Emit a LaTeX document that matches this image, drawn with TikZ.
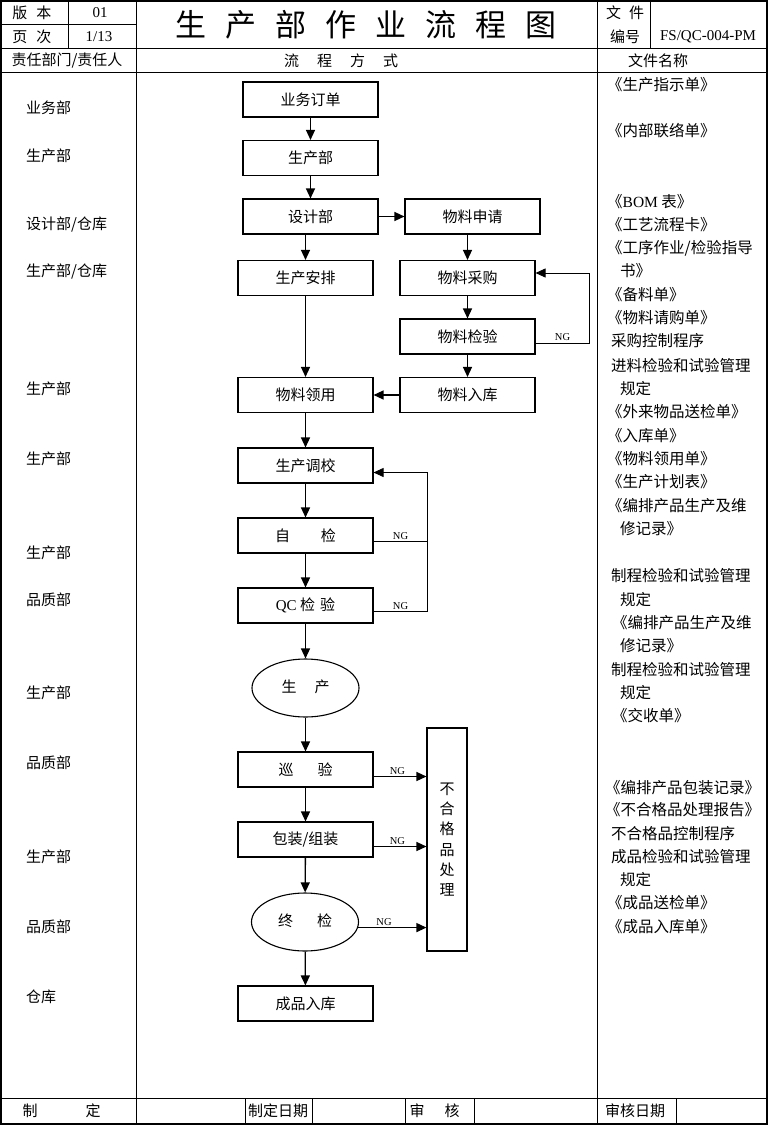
\documentclass[tikz,border=0pt]{standalone}
\usepackage{fontspec}
\setmainfont{Liberation Serif}
\newfontfamily\cjk{Noto Sans CJK SC}
\newfontfamily\lat{Liberation Serif}
\usetikzlibrary{arrows.meta,shapes.geometric,calc}
\newcommand\fsz[1]{\fontsize{#1}{#1}\selectfont}
\begin{document}
\begin{tikzpicture}[x=1pt,y=-1pt,
  frame/.style={line width=1.2pt},
  grid/.style={line width=1pt},
  txt/.style={inner sep=0pt, font=\cjk\fsz{15}},
  lbl/.style={anchor=west, inner sep=0pt, font=\cjk\fsz{15}},
  doc/.style={anchor=west, inner sep=0pt, font=\cjk\fsz{15.5}},
  box/.style={draw, line width=1.1pt, minimum width=135pt, minimum height=35pt, inner sep=0pt, font=\cjk\fsz{15}},
  oval/.style={draw, ellipse, line width=1.1pt, minimum width=107pt, minimum height=58pt, inner sep=0pt, font=\cjk\fsz{15}},
  arr/.style={line width=1.3pt, -{Triangle[length=10pt,width=9pt]}},
  thinl/.style={line width=0.8pt},
  thinarr/.style={line width=0.8pt, -{Triangle[length=10pt,width=9pt]}},
  ng/.style={font=\lat\fsz{10.5}, inner sep=1.5pt}
]
\useasboundingbox (0,0) rectangle (768,1126);
\fill[white] (0,0) rectangle (768,1126);
% ---------- table ----------
\draw[frame] (1,1) rectangle (767,1124);
\draw[grid] (1,25) -- (136,25);
\draw[grid] (1,48.5) -- (767,48.5);
\draw[grid] (1,72.5) -- (767,72.5);
\draw[grid] (1,1098.5) -- (767,1098.5);
\draw[grid] (68,1) -- (68,48.5);
\draw[grid] (650,1) -- (650,48.5);
\draw[grid] (136,1) -- (136,1124);
\draw[grid] (597,1) -- (597,1124);
\foreach \x in {245,312,405,474,676} \draw[grid] (\x,1098.5) -- (\x,1124);
% ---------- header ----------
\node[txt] (h1) at (32,13) {版\hspace{9pt}本};
\node[txt] (h2) at (32,37) {页\hspace{9pt}次};
\node[txt,font=\lat\fsz{15}] (h3) at (100,13) {01};
\node[txt,font=\lat\fsz{15}] (h4) at (99,37) {1/13};
\node[txt,font=\cjk\fsz{31}] (title) at (366,25) {生\hspace{19pt}产\hspace{19pt}部\hspace{19pt}作\hspace{19pt}业\hspace{19pt}流\hspace{19pt}程\hspace{19pt}图};
\node[txt] (h5) at (625,13) {文\hspace{8pt}件};
\node[txt] (h6) at (625,37) {编号};
\node[txt,font=\lat\fsz{15}] (h7) at (708,37) {FS/QC-004-PM};
\node[txt] (h8) at (67,61) {责任部门/责任人};
\node[txt] (h9) at (341,61) {流\hspace{18pt}程\hspace{18pt}方\hspace{18pt}式};
\node[txt] (h10) at (658,61) {文件名称};
% ---------- footer ----------
\node[txt] (f1) at (30,1111) {制};
\node[txt] (f2) at (93,1111) {定};
\node[txt] (f3) at (278,1111) {制定日期};
\node[txt] (f4) at (417,1111) {审};
\node[txt] (f5) at (452,1111) {核};
\node[txt] (f6) at (635,1111) {审核日期};
% ---------- left labels ----------
\node[lbl] (l1) at (26,108) {业务部};
\node[lbl] (l2) at (26,156) {生产部};
\node[lbl] (l3) at (26,225) {设计部/仓库};
\node[lbl] (l4) at (26,272) {生产部/仓库};
\node[lbl] (l5) at (26,389) {生产部};
\node[lbl] (l6) at (26,459) {生产部};
\node[lbl] (l7) at (26,553) {生产部};
\node[lbl] (l8) at (26,600) {品质部};
\node[lbl] (l9) at (26,693) {生产部};
\node[lbl] (l10) at (26,763) {品质部};
\node[lbl] (l11) at (26,857) {生产部};
\node[lbl] (l12) at (26,927) {品质部};
\node[lbl] (l13) at (26,997) {仓库};
% ---------- right documents ----------
\node[doc] (r1) at (607,85) {《生产指示单》};
\node[doc] (r2) at (607,131) {《内部联络单》};
\node[doc] (r3) at (607,202) {《{\lat BOM} 表》};
\node[doc] (r4) at (607,225) {《工艺流程卡》};
\node[doc] (r5) at (607,248) {《工序作业/检验指导};
\node[doc] (r6) at (620,271) {书》};
\node[doc] (r7) at (607,295) {《备料单》};
\node[doc] (r8) at (607,318) {《物料请购单》};
\node[doc] (r9) at (611,341) {采购控制程序};
\node[doc] (r10) at (611,366) {进料检验和试验管理};
\node[doc] (r11) at (620,389) {规定};
\node[doc] (r12) at (607,412) {《外来物品送检单》};
\node[doc] (r13) at (607,436) {《入库单》};
\node[doc] (r14) at (607,459) {《物料领用单》};
\node[doc] (r15) at (607,482) {《生产计划表》};
\node[doc] (r16) at (607,506) {《编排产品生产及维};
\node[doc] (r17) at (620,529) {修记录》};
\node[doc] (r18) at (611,576) {制程检验和试验管理};
\node[doc] (r19) at (620,600) {规定};
\node[doc] (r20) at (612,623) {《编排产品生产及维};
\node[doc] (r21) at (620,646) {修记录》};
\node[doc] (r22) at (611,670) {制程检验和试验管理};
\node[doc] (r23) at (620,693) {规定};
\node[doc] (r24) at (612,716) {《交收单》};
\node[doc] (r25) at (605,788) {《编排产品包装记录》};
\node[doc] (r26) at (605,810) {《不合格品处理报告》};
\node[doc] (r27) at (611,834) {不合格品控制程序};
\node[doc] (r28) at (611,857) {成品检验和试验管理};
\node[doc] (r29) at (620,880) {规定};
\node[doc] (r30) at (607,903) {《成品送检单》};
\node[doc] (r31) at (607,927) {《成品入库单》};
% ---------- flow nodes ----------
\node[box] (ywdd) at (310.5,99.5) {业务订单};
\node[box] (scb) at (310.5,158) {生产部\hspace{15pt}};
\node[box] (sjb) at (310.5,216.5) {设计部\hspace{15pt}};
\node[box] (wlsq) at (472.5,216.5) {物料申请};
\node[box] (scap) at (305.5,278) {生产安排};
\node[box] (wlcg) at (467.5,278) {物料采购};
\node[box] (wljy) at (467.5,336.5) {物料检验};
\node[box] (wlly) at (305.5,395) {物料领用};
\node[box] (wlrk) at (467.5,395) {物料入库};
\node[box] (sctj) at (305.5,465.5) {生产调校};
\node[box] (zij) at (305.5,535.5) {自\hspace{31pt}检};
\node[box] (qcjy) at (305.5,605.5) {{\lat QC} 检\hspace{5pt}验};
\node[oval] (sc) at (305.5,688) {\raisebox{4pt}{生\hspace{18pt}产}};
\node[box] (xy) at (305.5,769.5) {巡\hspace{24pt}验\hspace{10pt}};
\node[box] (bz) at (305.5,839.5) {包装/组装};
\node[oval] (zj) at (305,922) {\raisebox{4pt}{终\hspace{24pt}检}};
\node[box] (cprk) at (305.5,1003.5) {成品入库};
\node[draw, line width=1.1pt, minimum width=40pt, minimum height=223pt, inner sep=0pt,
      font=\cjk\fsz{15}, align=center] (bh) at (447,839.5)
      {\baselineskip=23.3pt 不\\[5.3pt]合\\[5.3pt]格\\[5.3pt]品\\[5.3pt]处\\[5.3pt]理};
% ---------- connectors ----------
\draw[arr] (ywdd) -- (scb);
\draw[arr] (scb) -- (sjb);
\draw[arr] (sjb) -- (wlsq);
\draw[arr] (scap.north |- sjb.south) -- (scap.north);
\draw[arr] (wlcg.north |- wlsq.south) -- (wlcg.north);
\draw[arr] (wlcg) -- (wljy);
\draw[arr] (wljy) -- (wlrk);
\draw[arr] (scap) -- (wlly);
\draw[arr] (wlrk) -- (wlly);
\draw[arr] (wlly) -- (sctj);
\draw[arr] (sctj) -- (zij);
\draw[arr] (zij) -- (qcjy);
\draw[arr] (qcjy) -- (sc);
\draw[arr] (sc) -- (xy);
\draw[arr] (xy) -- (bz);
\draw[arr] (bz) -- (zj);
\draw[arr] (zj) -- (cprk);
% NG loop: material inspection back to purchasing
\draw[thinarr] ($(wljy.east)+(0,6.5)$) -- node[ng,above] (ng1) {NG} ($(wljy.east)+(54,6.5)$) coordinate (lp1) |- ($(wlcg.east)+(0,-5)$);
% NG loop: self check / QC back to adjustment
\draw[thinarr] ($(qcjy.east)+(0,6)$) -- node[ng,above] (ng3) {NG} ($(qcjy.east)+(54,6)$) coordinate (lp2) |- ($(sctj.east)+(0,7)$);
\coordinate (zo) at ($(zij.east)+(0,6)$);
\draw[thinl] (zo) -- node[ng,above] (ng2) {NG} (lp2 |- zo);
% NG to nonconforming handling
\coordinate (xo) at ($(xy.east)+(0,7)$);
\draw[arr] (xo) -- node[ng,above,pos=0.45] (ng4) {NG} (bh.west |- xo);
\coordinate (bo) at ($(bz.east)+(0,7)$);
\draw[arr] (bo) -- node[ng,above,pos=0.45] (ng5) {NG} (bh.west |- bo);
\draw[arr] (zj.-6.6) -- node[ng,above,pos=0.38] (ng6) {NG} (bh.west |- zj.-6.6);
\end{tikzpicture}
\end{document}
